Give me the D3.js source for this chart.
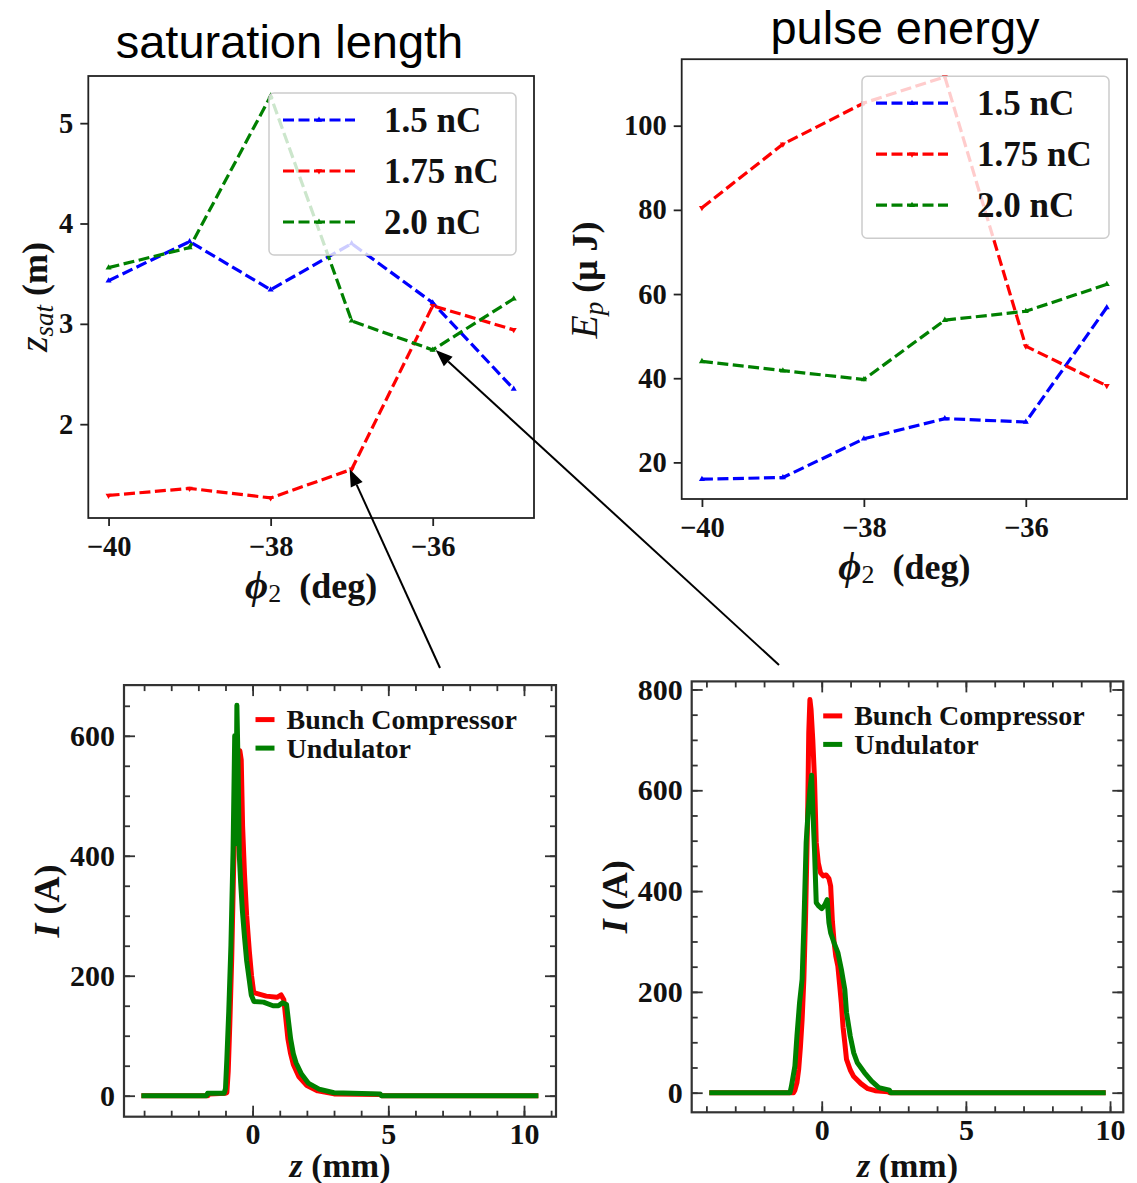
<!DOCTYPE html>
<html>
<head>
<meta charset="utf-8">
<script src="https://cdn.jsdelivr.net/npm/d3@7"></script>
<style>
  body { margin: 0; background: #fff; }
</style>
</head>
<body>
<main></main>
<script>
// Set dimensions
const w = 1137;
const h = 1183;
const serif = "'Liberation Serif', 'Times New Roman', 'DejaVu Serif', serif";
const sans = "'Liberation Sans', Arial, sans-serif";

// ---- Data: scans over phi2 ----
const phi = [-40, -39, -38, -37, -36, -35];
const charges = ["1.5 nC", "1.75 nC", "2.0 nC"];
const zsat15 = [3.43, 3.82, 3.34, 3.8, 3.21, 2.35];
const zsat175 = [1.29, 1.36, 1.265, 1.55, 3.18, 2.94];
const zsat20 = [3.56, 3.76, 5.27, 3.03, 2.74, 3.25];
const ep15 = [16.0, 16.4, 25.6, 30.4, 29.6, 56.8];
const ep175 = [80.5, 95.6, 105.4, 111.6, 47.6, 38.2];
const ep20 = [44.0, 41.8, 39.7, 53.8, 55.9, 62.3];
const phiTicks = [-40, -38, -36];
const zsatTicks = [2, 3, 4, 5];
const epTicks = [20, 40, 60, 80, 100];

// ---- Data: current profiles ----
const profiles = ["Bunch Compressor", "Undulator"];
// left panel (1.75 nC, -37 deg)
const zBcA = [-4.1, -1.65, -1.6, -1.0, -0.95, -0.9, -0.84, -0.77, -0.7, -0.62, -0.54, -0.47, -0.42, -0.37, -0.3, -0.22, -0.12, -0.04, 0.04, 0.5, 0.9, 1.05, 1.15, 1.22, 1.3, 1.4, 1.5, 1.7, 2.0, 2.4, 3.0, 4.7, 4.75, 10.53];
const iBcA = [0, 0, 3, 4, 5, 40, 120, 230, 380, 500, 560, 575, 560, 450, 370, 300, 240, 200, 172, 166, 164, 168, 160, 130, 95, 70, 52, 32, 17, 8, 3, 2, 0, 0];
const zUndA = [-4.1, -1.7, -1.66, -1.05, -1.0, -0.95, -0.88, -0.8, -0.72, -0.66, -0.62, -0.58, -0.54, -0.49, -0.44, -0.38, -0.3, -0.22, -0.13, -0.05, 0.05, 0.4, 0.75, 0.95, 1.1, 1.25, 1.32, 1.4, 1.5, 1.6, 1.8, 2.05, 2.45, 3.0, 4.7, 4.75, 10.53];
const iUndA = [0, 0, 4, 4, 12, 60, 140, 250, 410, 600, 420, 651, 560, 400, 355, 310, 265, 225, 195, 168, 157, 156, 150, 150, 155, 152, 125, 95, 70, 55, 36, 21, 11, 5, 3, 0, 0];
// right panel (2.0 nC, -36 deg)
const zBcB = [-3.9, -0.98, -0.93, -0.86, -0.8, -0.74, -0.68, -0.62, -0.56, -0.49, -0.45, -0.41, -0.37, -0.31, -0.25, -0.19, -0.12, -0.04, 0.05, 0.15, 0.25, 0.31, 0.37, 0.43, 0.49, 0.56, 0.62, 0.68, 0.74, 0.8, 0.86, 0.99, 1.11, 1.36, 1.6, 1.85, 2.3, 2.35, 9.85];
const iBcB = [0, 0, 5, 20, 46, 90, 145, 225, 350, 542, 714, 780, 760, 700, 621, 496, 456, 436, 430, 432, 425, 410, 340, 298, 270, 251, 215, 178, 130, 99, 66, 45, 32, 18, 8, 4, 2, 0, 0];
const zUndB = [-3.9, -1.1, -1.05, -0.93, -0.86, -0.77, -0.68, -0.62, -0.54, -0.47, -0.41, -0.35, -0.3, -0.25, -0.19, -0.1, 0.0, 0.1, 0.19, 0.25, 0.31, 0.43, 0.56, 0.68, 0.8, 0.86, 0.99, 1.11, 1.23, 1.48, 1.73, 1.98, 2.35, 2.4, 9.85];
const iUndB = [0, 0, 13, 53, 112, 178, 225, 331, 496, 560, 600, 630, 550, 480, 377, 370, 365, 372, 383, 337, 317, 297, 278, 245, 205, 159, 112, 79, 60, 40, 23, 10, 5, 0, 0];
const zTicks = [0, 5, 10];
const iTicksA = [0, 200, 400, 600];
const iTicksB = [0, 200, 400, 600, 800];

const lineColors = ["#0000ff", "#ff0000", "#008000"];
const profColors = ["#ff0000", "#008000"];
const fmt = d3.format("d");

// Create svg
const svg = d3
  .select("main")
  .append("svg")
  .attr("width", w)
  .attr("height", h)
  .attr("viewBox", `0 0 ${w} ${h}`);

function styleAxis(sel, fs, color) {
  sel.select(".domain").remove();
  sel.selectAll(".tick line").attr("stroke", color).attr("stroke-width", 1.8);
  sel
    .selectAll(".tick text")
    .attr("font-family", serif)
    .attr("font-size", fs)
    .attr("font-weight", "bold")
    .attr("fill", "#111");
}

// ---- Top panels (phi2 scans) ----
function scanPanel(p) {
  const x = d3.scaleLinear().domain([-40.25, -34.75]).range([p.l, p.r]);
  const y = d3.scaleLinear().domain(p.yDom).range([p.b, p.t]);
  const g = svg.append("g");

  g.append("g")
    .attr("transform", `translate(0, ${p.b})`)
    .call(d3.axisBottom(x).tickValues(phiTicks).tickFormat(fmt).tickSize(8).tickPadding(10))
    .call(styleAxis, 28.5, "#222");

  g.append("g")
    .attr("transform", `translate(${p.l}, 0)`)
    .call(d3.axisLeft(y).tickValues(p.yTicks).tickFormat(fmt).tickSize(8).tickPadding(7))
    .call(styleAxis, 28.5, "#222");

  const line = d3.line().x((d) => x(d[0])).y((d) => y(d[1]));
  const marker = d3.symbol(d3.symbolTriangle, 16);

  p.series.forEach((s, i) => {
    const pts = phi.map((v, j) => [v, s[j]]);
    g.append("path")
      .datum(pts)
      .attr("d", line)
      .attr("fill", "none")
      .attr("stroke", lineColors[i])
      .attr("stroke-width", 3.2)
      .attr("stroke-dasharray", "11,4.5");
    g.selectAll(null)
      .data(pts)
      .enter()
      .append("path")
      .attr("d", marker)
      .attr("transform", (d) => `translate(${x(d[0])}, ${y(d[1])}) rotate(${i === 1 ? 180 : 0})`)
      .attr("fill", lineColors[i]);
  });

  // frame
  g.append("rect")
    .attr("x", p.l)
    .attr("y", p.t)
    .attr("width", p.r - p.l)
    .attr("height", p.b - p.t)
    .attr("fill", "none")
    .attr("stroke", "#222")
    .attr("stroke-width", 1.8);

  // legend
  const lg = g.append("g").attr("transform", `translate(${p.r - 265}, ${p.t + 17})`);
  lg.append("rect")
    .attr("width", 247)
    .attr("height", 162)
    .attr("rx", 5)
    .attr("fill", "rgba(255,255,255,0.8)")
    .attr("stroke", "#cccccc")
    .attr("stroke-width", 1.5);
  charges.forEach((c, i) => {
    const ly = 27 + i * 51;
    lg.append("line")
      .attr("x1", 14)
      .attr("x2", 86)
      .attr("y1", ly)
      .attr("y2", ly)
      .attr("stroke", lineColors[i])
      .attr("stroke-width", 3.2)
      .attr("stroke-dasharray", "11,4.5");
    lg.append("path")
      .attr("d", marker)
      .attr("transform", `translate(50, ${ly}) rotate(${i === 1 ? 180 : 0})`)
      .attr("fill", lineColors[i]);
    lg.append("text")
      .attr("x", 115)
      .attr("y", ly + 12)
      .attr("font-family", serif)
      .attr("font-weight", "bold")
      .attr("font-size", 35)
      .attr("fill", "#111")
      .text(c);
  });

  // x label: phi_2 (deg)
  const xl = g.append("text")
    .attr("x", (p.l + p.r) / 2)
    .attr("y", p.b + 80)
    .attr("text-anchor", "middle")
    .attr("font-family", serif)
    .attr("font-size", 36)
    .attr("fill", "#111");
  xl.append("tspan").attr("font-weight", "bold").attr("font-style", "italic").attr("font-size", 40).text("ϕ");
  xl.append("tspan").attr("font-size", 26).attr("dy", 4).text("2");
  xl.append("tspan").attr("font-weight", "bold").attr("dy", -4).text("\u00a0\u00a0(deg)");

  // title
  svg.append("text")
    .attr("x", p.titleX)
    .attr("y", p.titleY)
    .attr("text-anchor", "middle")
    .attr("font-family", sans)
    .attr("font-size", 47)
    .attr("fill", "#000")
    .text(p.title);

  return { x, y };
}

const tl = scanPanel({
  l: 88.3, r: 534, t: 76, b: 518,
  yDom: [1.065, 5.47], yTicks: zsatTicks,
  series: [zsat15, zsat175, zsat20],
  title: "saturation length", titleX: 289.5, titleY: 58,
});

scanPanel({
  l: 681.7, r: 1127, t: 59.2, b: 499,
  yDom: [11.3, 115.8], yTicks: epTicks,
  series: [ep15, ep175, ep20],
  title: "pulse energy", titleX: 905, titleY: 44,
});

// y labels of the top panels
const yl1 = svg.append("text")
  .attr("transform", "translate(35, 297) rotate(-90)")
  .attr("y", 12)
  .attr("text-anchor", "middle")
  .attr("font-family", serif)
  .attr("fill", "#111");
yl1.append("tspan").attr("font-style", "italic").attr("font-size", 40).text("z");
yl1.append("tspan").attr("font-style", "italic").attr("font-size", 27).attr("dy", 6).text("sat");
yl1.append("tspan").attr("font-weight", "bold").attr("font-size", 36).attr("dy", -6).text("\u00a0(m)");

const yl2 = svg.append("text")
  .attr("transform", "translate(585, 280) rotate(-90)")
  .attr("y", 12)
  .attr("text-anchor", "middle")
  .attr("font-family", serif)
  .attr("fill", "#111");
yl2.append("tspan").attr("font-style", "italic").attr("font-size", 38).text("E");
yl2.append("tspan").attr("font-style", "italic").attr("font-size", 27).attr("dy", 6).text("p");
yl2.append("tspan").attr("font-weight", "bold").attr("font-size", 36).attr("dy", -6).text("\u00a0(");
yl2.append("tspan").attr("font-weight", "bold").attr("font-size", 36).text("μ");
yl2.append("tspan").attr("font-weight", "bold").attr("font-size", 36).text("\u00a0J)");

// ---- Bottom panels (current profiles) ----
function profilePanel(p) {
  const x = d3.scaleLinear().domain(p.xDom).range([p.l, p.r]);
  const y = d3.scaleLinear().domain(p.yDom).range([p.b, p.t]);
  const g = svg.append("g");
  const line = d3.line().x((d) => x(d[0])).y((d) => y(d[1]));

  p.curves.forEach((c, i) => {
    g.append("path")
      .datum(c[0].map((v, j) => [v, c[1][j]]))
      .attr("d", line)
      .attr("fill", "none")
      .attr("stroke", profColors[i])
      .attr("stroke-width", 5)
      .attr("stroke-linejoin", "round");
  });

  const zMinor = d3.range(Math.ceil(p.xDom[0]), Math.floor(p.xDom[1]) + 1);
  const iMinor = d3.range(0, p.yDom[1], 50);

  // bottom
  g.append("g").attr("transform", `translate(0, ${p.b})`)
    .call(d3.axisBottom(x).tickValues(zMinor).tickSize(-6).tickFormat(""))
    .call(styleAxis, 30, "#333");
  g.append("g").attr("transform", `translate(0, ${p.b})`)
    .call(d3.axisBottom(x).tickValues(zTicks).tickFormat(fmt).tickSize(-11).tickPadding(6))
    .call(styleAxis, 30, "#333");
  // top
  g.append("g").attr("transform", `translate(0, ${p.t})`)
    .call(d3.axisTop(x).tickValues(zMinor).tickSize(-6).tickFormat(""))
    .call(styleAxis, 30, "#333");
  g.append("g").attr("transform", `translate(0, ${p.t})`)
    .call(d3.axisTop(x).tickValues(zTicks).tickSize(-11).tickFormat(""))
    .call(styleAxis, 30, "#333");
  // left
  g.append("g").attr("transform", `translate(${p.l}, 0)`)
    .call(d3.axisLeft(y).tickValues(iMinor).tickSize(-6).tickFormat(""))
    .call(styleAxis, 30, "#333");
  g.append("g").attr("transform", `translate(${p.l}, 0)`)
    .call(d3.axisLeft(y).tickValues(p.yTicks).tickFormat(fmt).tickSize(-11).tickPadding(9))
    .call(styleAxis, 30, "#333");
  // right
  g.append("g").attr("transform", `translate(${p.r}, 0)`)
    .call(d3.axisRight(y).tickValues(iMinor).tickSize(-6).tickFormat(""))
    .call(styleAxis, 30, "#333");
  g.append("g").attr("transform", `translate(${p.r}, 0)`)
    .call(d3.axisRight(y).tickValues(p.yTicks).tickSize(-11).tickFormat(""))
    .call(styleAxis, 30, "#333");

  g.append("rect")
    .attr("x", p.l)
    .attr("y", p.t)
    .attr("width", p.r - p.l)
    .attr("height", p.b - p.t)
    .attr("fill", "none")
    .attr("stroke", "#333")
    .attr("stroke-width", 2.2);

  // legend
  profiles.forEach((name, i) => {
    const ly = p.t + 34.5 + i * 28.5;
    g.append("line")
      .attr("x1", p.l + 131.5)
      .attr("x2", p.l + 150.5)
      .attr("y1", ly)
      .attr("y2", ly)
      .attr("stroke", profColors[i])
      .attr("stroke-width", 5);
    g.append("text")
      .attr("x", p.l + 162.5)
      .attr("y", ly + 9.5)
      .attr("font-family", serif)
      .attr("font-weight", "bold")
      .attr("font-size", 28)
      .attr("fill", "#111")
      .text(name);
  });

  // x label
  const xl = g.append("text")
    .attr("x", (p.l + p.r) / 2)
    .attr("y", h - 6)
    .attr("text-anchor", "middle")
    .attr("font-family", serif)
    .attr("font-size", 34)
    .attr("fill", "#111");
  xl.append("tspan").attr("font-style", "italic").attr("font-weight", "bold").text("z");
  xl.append("tspan").attr("font-weight", "bold").text("\u00a0(mm)");

  // y label
  const yl = g.append("text")
    .attr("transform", `translate(${p.ylX}, ${(p.t + p.b) / 2}) rotate(-90)`)
    .attr("y", 12)
    .attr("text-anchor", "middle")
    .attr("font-family", serif)
    .attr("font-size", 36)
    .attr("fill", "#111");
  yl.append("tspan").attr("font-style", "italic").attr("font-weight", "bold").text("I");
  yl.append("tspan").attr("font-weight", "bold").text("\u00a0(A)");
}

profilePanel({
  l: 124, r: 556, t: 685.1, b: 1116.7,
  xDom: [-4.74, 11.18], yDom: [-35, 684.5], yTicks: iTicksA,
  curves: [[zBcA, iBcA], [zUndA, iUndA]],
  ylX: 47,
});

profilePanel({
  l: 691.7, r: 1123.3, t: 681.4, b: 1112.3,
  xDom: [-4.51, 10.46], yDom: [-38.9, 816], yTicks: iTicksB,
  curves: [[zBcB, iBcB], [zUndB, iUndB]],
  ylX: 615,
});

// ---- Arrows from the scan points to their profiles ----
function arrow(x1, y1, x2, y2) {
  const ang = Math.atan2(y2 - y1, x2 - x1);
  const L = 17;
  const Wd = 6.5;
  const bx = x2 - L * Math.cos(ang);
  const by = y2 - L * Math.sin(ang);
  svg.append("line")
    .attr("x1", x1)
    .attr("y1", y1)
    .attr("x2", bx)
    .attr("y2", by)
    .attr("stroke", "#000")
    .attr("stroke-width", 2);
  const px = -Math.sin(ang) * Wd;
  const py = Math.cos(ang) * Wd;
  svg.append("polygon")
    .attr("points", `${x2},${y2} ${bx + px},${by + py} ${bx - px},${by - py}`)
    .attr("fill", "#000");
}

arrow(440, 668, tl.x(phi[3]) - 2, tl.y(zsat175[3]));
arrow(779, 665, tl.x(phi[4]) + 3, tl.y(zsat20[4]));
</script>
</body>
</html>
